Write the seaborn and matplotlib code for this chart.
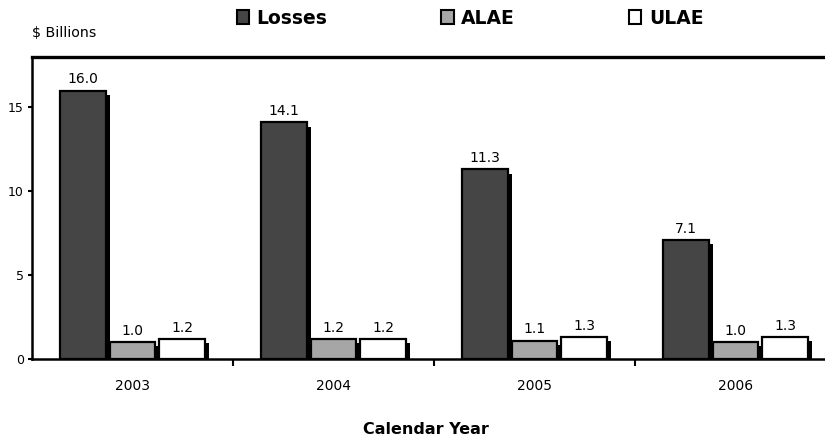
import matplotlib
matplotlib.use("Agg")
import matplotlib.pyplot as plt
import matplotlib.patheffects as pe
from matplotlib.patches import Patch
import seaborn as sns
import pandas as pd

years = ["2003", "2004", "2005", "2006"]
losses = [16.0, 14.1, 11.3, 7.1]
alae = [1.0, 1.2, 1.1, 1.0]
ulae = [1.2, 1.2, 1.3, 1.3]
series = ["Losses", "ALAE", "ULAE"]
colors = ["#454545", "#a6a6a6", "#ffffff"]

df = pd.DataFrame({
    "year": years * 3,
    "value": losses + alae + ulae,
    "series": [s for s in series for _ in years],
})

sns.set_theme(style="white")
plt.rcParams["font.family"] = ["DejaVu Sans"]
plt.rcParams["text.color"] = "black"
plt.rcParams["xtick.color"] = "black"
plt.rcParams["ytick.color"] = "black"

fig = plt.figure(figsize=(8.25, 4.42), dpi=100)
ax = fig.add_axes([32 / 825, 83 / 442, 804 / 825, 302 / 442])

sns.barplot(data=df, x="year", y="value", hue="series", palette=colors,
            width=0.74, gap=0.08, edgecolor="black", linewidth=1.6,
            legend=False, ax=ax)

# drop shadow to the lower right of each bar
shadow = [pe.SimplePatchShadow(offset=(3, -3), shadow_rgbFace="black", alpha=1.0),
          pe.Normal()]
for cont in ax.containers:
    for bar in cont:
        bar.set_path_effects(shadow)
    ax.bar_label(cont, fmt="%.1f", padding=3, fontsize=10)

ax.set_xlim(-0.5, 3.5)
ax.set_ylim(0, 18)
ax.set_yticks([0, 5, 10, 15])
ax.set_xticks([0.5, 1.5, 2.5], minor=True)
ax.tick_params(axis="x", which="major", length=0, labelsize=10, pad=14.5)
ax.tick_params(axis="x", which="minor", length=5, width=1.5, direction="out",
               color="black", bottom=True)
ax.tick_params(axis="y", length=3, width=1.5, direction="out", color="black",
               labelsize=9, left=True, pad=3)

for side in ["left", "bottom"]:
    ax.spines[side].set_color("black")
    ax.spines[side].set_linewidth(1.8)
ax.spines["top"].set_color("black")
ax.spines["top"].set_linewidth(2.4)
ax.spines["right"].set_visible(False)

ax.set_xlabel("")
ax.set_ylabel("")
fig.text(426 / 825, 1 - 430 / 442, "Calendar Year", fontsize=11.5,
         fontweight="bold", ha="center", va="center")
fig.text(32 / 825, 1 - 33 / 442, "$ Billions", fontsize=10.2, va="center", ha="left")

handles = [Patch(facecolor=c, edgecolor="black", linewidth=1.5) for c in colors]
fig.legend(handles, series, loc="center left",
           bbox_to_anchor=(229 / 825, 1 - 18 / 442),
           ncol=3, frameon=False, handlelength=0.65, handleheight=0.85,
           handletextpad=0.4, columnspacing=6.1, borderaxespad=0,
           labelcolor="black", prop={"weight": "bold", "size": 13.5})

fig.savefig("out.png", dpi=100)
